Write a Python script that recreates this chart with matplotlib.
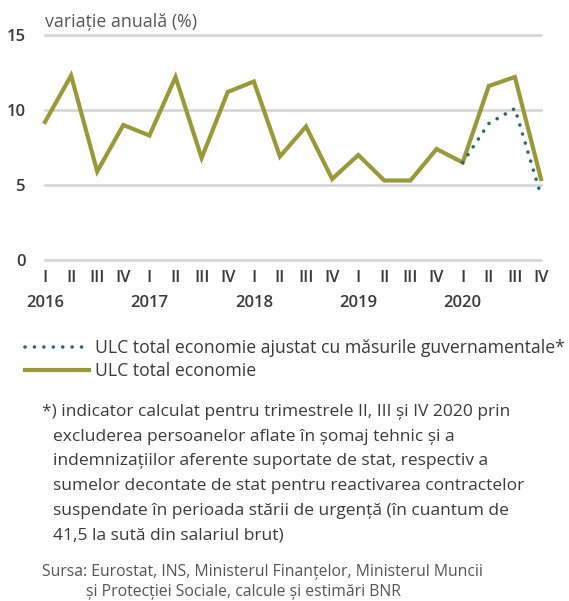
import matplotlib.pyplot as plt
from matplotlib.lines import Line2D

plt.rcParams['font.family'] = ['Open Sans', 'DejaVu Sans']

quarters = ['I', 'II', 'III', 'IV'] * 5
years = ['2016', '2017', '2018', '2019', '2020']
ulc_total = [9.2, 12.3, 5.9, 9.0, 8.3, 12.2, 6.8, 11.2, 11.9, 6.9, 8.9, 5.4,
             7.0, 5.3, 5.3, 7.4, 6.5, 11.6, 12.2, 5.4]
ulc_adjusted = [6.5, 9.1, 10.1, 4.3]  # 2020 Q1..Q4

olive = '#99993a'
teal = '#2b6a68'
grid_c = '#d3d3d3'
text_c = '#3a3a3a'

fig = plt.figure(figsize=(5.69, 6.01), dpi=100)
W, H = 569, 601
ax = fig.add_axes([45 / W, 1 - 260 / H, (541 - 45) / W, (260 - 35) / H])

x = list(range(len(ulc_total)))
ax.plot(x, ulc_total, color=olive, lw=3, solid_joinstyle='miter', zorder=3, clip_on=False)
x_adj = x[-4:]
ax.plot(x_adj, ulc_adjusted, color=teal, lw=2.6, linestyle=(0, (0.01, 2.6)),
        dash_capstyle='round', zorder=4, clip_on=False)

ax.set_xlim(0, len(x) - 1)
ax.set_ylim(0, 15)
ax.set_yticks([0, 5, 10, 15])
for v in [0, 5, 10, 15]:
    ax.axhline(v, color=grid_c, lw=1.8, zorder=1, clip_on=False)
for s in ax.spines.values():
    s.set_visible(False)
ax.tick_params(axis='both', length=0, colors=text_c, labelsize=12)
ax.tick_params(axis='y', pad=14)
ax.set_xticks(x)
ax.set_xticklabels(quarters)
ax.tick_params(axis='x', pad=7)
for i, yr in enumerate(years):
    ax.text(i * 4, -0.155, yr, transform=ax.get_xaxis_transform(), ha='center',
            va='top', fontsize=12, color=text_c, fontweight='semibold')
for lab in ax.get_xticklabels() + ax.get_yticklabels():
    lab.set_fontweight('semibold')

fig.text(45 / W, 1 - 22 / H, 'variație anuală (%)', fontsize=12.8, color='#555555',
         va='center', ha='left')

handles = [Line2D([], [], color=teal, lw=2.6, linestyle=(0, (0.01, 2.6)), dash_capstyle='round'),
           Line2D([], [], color=olive, lw=3)]
fig.legend(handles, ['ULC total economie ajustat cu măsurile guvernamentale*',
                     'ULC total economie'],
           loc='upper left', bbox_to_anchor=(9 / W, 1 - 323 / H), frameon=False,
           handlelength=3.65, handletextpad=0.35, labelspacing=0.28, fontsize=12.7,
           labelcolor=text_c)

foot = ['*) indicator calculat pentru trimestrele II, III și IV 2020 prin',
        'excluderea persoanelor aflate în șomaj tehnic și a',
        'indemnizațiilor aferente suportate de stat, respectiv a',
        'sumelor decontate de stat pentru reactivarea contractelor',
        'suspendate în perioada stării de urgență (în cuantum de',
        '41,5 la sută din salariul brut)']
for i, line in enumerate(foot):
    fig.text((42 if i == 0 else 53) / W, 1 - (412 + i * 24.7) / H, line,
             fontsize=12.5, color=text_c, va='center', ha='left')

fig.text(42 / W, 1 - 572 / H, 'Sursa: Eurostat, INS, Ministerul Finanțelor, Ministerul Muncii',
         fontsize=11.3, color='#555555', va='center', ha='left')
fig.text(86 / W, 1 - 592 / H, 'și Protecției Sociale, calcule și estimări BNR',
         fontsize=11.3, color='#555555', va='center', ha='left')

fig.savefig('out.png', dpi=100)
